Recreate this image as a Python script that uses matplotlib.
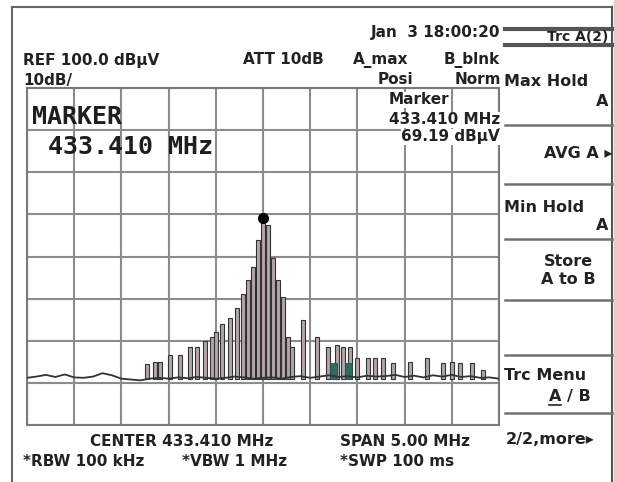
import numpy as np
import matplotlib.pyplot as plt

W, H = 617, 482

# analyzer settings
center = 433.410
span = 5.0
ref_level = 100.0
n_div_y = 8

# noise floor (dBuV), every 0.1 MHz from -2.5 to +2.5 MHz around center
floor_off = np.linspace(-2.5, 2.5, 51)
floor_db = [31.2, 31.5, 31.9, 31.4, 32.0, 31.3, 31.2, 31.5, 32.3, 31.8, 31.0, 30.8, 30.6,
            31.0, 31.2, 31.0, 31.3, 31.1, 31.4, 31.2, 31.0, 31.2, 31.5, 31.3, 31.0, 31.2,
            31.3, 31.0, 31.4, 31.6, 31.2, 31.5, 31.8, 31.4, 31.6, 31.3, 31.7, 31.5,
            31.6, 31.9, 31.4, 31.7, 31.3, 31.8, 31.5, 31.9, 31.4, 31.6, 31.2, 31.3, 31.0]

# spectral lines: offset from center (MHz) and level (dBuV)
spike_off = [-1.229, -1.144, -1.091, -0.985, -0.879, -0.773, -0.699, -0.614, -0.540, -0.498,
             -0.434, -0.350, -0.275, -0.212, -0.159, -0.106, -0.053, 0.0, 0.053, 0.106,
             0.159, 0.212, 0.265, 0.307, 0.424, 0.572, 0.689, 0.784, 0.847, 0.922,
             0.996, 1.112, 1.186, 1.271, 1.377, 1.557, 1.737, 1.907, 2.002, 2.087,
             2.214, 2.331]
spike_db = [34.4, 35.0, 35.0, 36.5, 36.5, 38.5, 38.5, 40.0, 41.0, 42.0,
            44.0, 45.5, 47.7, 51.0, 54.4, 57.5, 64.0, 69.19, 67.5, 59.6,
            54.4, 50.4, 41.0, 38.5, 45.0, 41.0, 38.5, 39.0, 38.5, 38.5,
            36.0, 36.0, 36.0, 36.0, 34.7, 35.0, 36.0, 34.7, 35.0, 34.7,
            34.7, 33.0]
# trace B bits (teal)
teal_off = [0.745, 0.905]
teal_db = [34.8, 34.8]

marker_db = 69.19

fig = plt.figure(figsize=(W / 100, H / 100), dpi=100)

# spectrum graticule
ax = fig.add_axes([27 / W, 1 - 425 / H, 472 / W, 337 / H], zorder=1)
f0, f1 = center - span / 2, center + span / 2
ax.set_xlim(f0, f1)
ax.set_ylim(ref_level - 10 * n_div_y, ref_level)
ax.set_xticks(np.linspace(f0, f1, 11))
ax.set_yticks(np.linspace(ref_level - 10 * n_div_y, ref_level, n_div_y + 1))
ax.grid(color='#8c8c8c', lw=1.5)
ax.tick_params(length=0, labelbottom=False, labelleft=False)
for s in ax.spines.values():
    s.set_color('#7a7a7a')
    s.set_linewidth(1.5)

base = 31.0
ax.bar(center + np.array(spike_off), np.array(spike_db) - base, bottom=base, width=0.05,
       color='#b3a6a6', edgecolor='#333333', linewidth=0.8, zorder=3)
ax.bar(center + np.array(teal_off), np.array(teal_db) - base, bottom=base, width=0.07,
       color='#2f6a64', edgecolor='#24504c', linewidth=0.6, zorder=3)
ax.plot(center + floor_off, floor_db, color='#333333', lw=1.3, zorder=4)
ax.plot(center, marker_db, 'o', color='black', ms=7, zorder=5)

# overlay in pixel coordinates for frame, softkeys and texts
ov = fig.add_axes([0, 0, 1, 1], zorder=3)
ov.set_xlim(0, W)
ov.set_ylim(H, 0)
ov.axis('off')

ov.plot([12, 612], [7, 7], color='#666666', lw=1.5)
ov.plot([12, 12], [7, H], color='#666666', lw=1.5)
ov.plot([612, 612], [7, H], color='#555555', lw=1.5)
ov.fill_between([613.5, W], 0, H, color='#ecc9c9')

# softkey panel
for y in [29, 45]:
    ov.plot([505, 612], [y, y], color='#555555', lw=3)
for y in [125, 184, 239, 300, 355, 413]:
    ov.plot([505, 612], [y, y], color='#707070', lw=1.8)

fs = 11
sk = 11.5
tkw = dict(family='DejaVu Sans', weight='bold', color='#222222', va='center')


def txt(x, y, s, ha='left', size=fs, **kw):
    ov.text(x, y, s, ha=ha, fontsize=size, **tkw, **kw)


txt(608, 37, 'Trc A(2)', ha='right', size=10)
txt(504, 82, 'Max Hold', size=sk)
txt(608, 102, 'A', ha='right', size=sk)
txt(612, 154, 'AVG A \u25b8', ha='right', size=sk)
txt(504, 208, 'Min Hold', size=sk)
txt(608, 225, 'A', ha='right', size=sk)
txt(568, 261, 'Store', ha='center', size=sk)
txt(568, 280, 'A to B', ha='center', size=sk)
txt(504, 375, 'Trc Menu', size=sk)
txt(549, 396, 'A / B', size=sk)
ov.plot([549, 561], [405, 405], color='#222222', lw=1.2)
txt(506, 440, '2/2,more\u25b8', size=sk)

# header
txt(500, 33, 'Jan  3 18:00:20', ha='right')
txt(23, 60, 'REF 100.0 dB\u00b5V')
txt(243, 60, 'ATT 10dB')
txt(353, 60, 'A_max')
txt(500, 60, 'B_blnk', ha='right')
txt(23, 80, '10dB/')
txt(378, 80, 'Posi')
txt(501, 80, 'Norm', ha='right')

# marker readouts
big = dict(family='DejaVu Sans Mono', weight='bold', color='#1e1e1e', va='center', fontsize=18)
ov.text(32, 117, 'MARKER', ha='left', **big)
ov.text(48, 147, '433.410 MHz', ha='left', **big)
wb = dict(facecolor='white', edgecolor='none', pad=0.6)
txt(419, 100, 'Marker', ha='center', bbox=wb)
txt(500, 120, '433.410 MHz', ha='right', bbox=wb)
txt(500, 137, '69.19 dB\u00b5V', ha='right', bbox=wb)

# footer
txt(90, 442, 'CENTER 433.410 MHz')
txt(340, 442, 'SPAN 5.00 MHz')
txt(23, 462, '*RBW 100 kHz')
txt(182, 462, '*VBW 1 MHz')
txt(340, 462, '*SWP 100 ms')

fig.savefig('out.png', dpi=100)
